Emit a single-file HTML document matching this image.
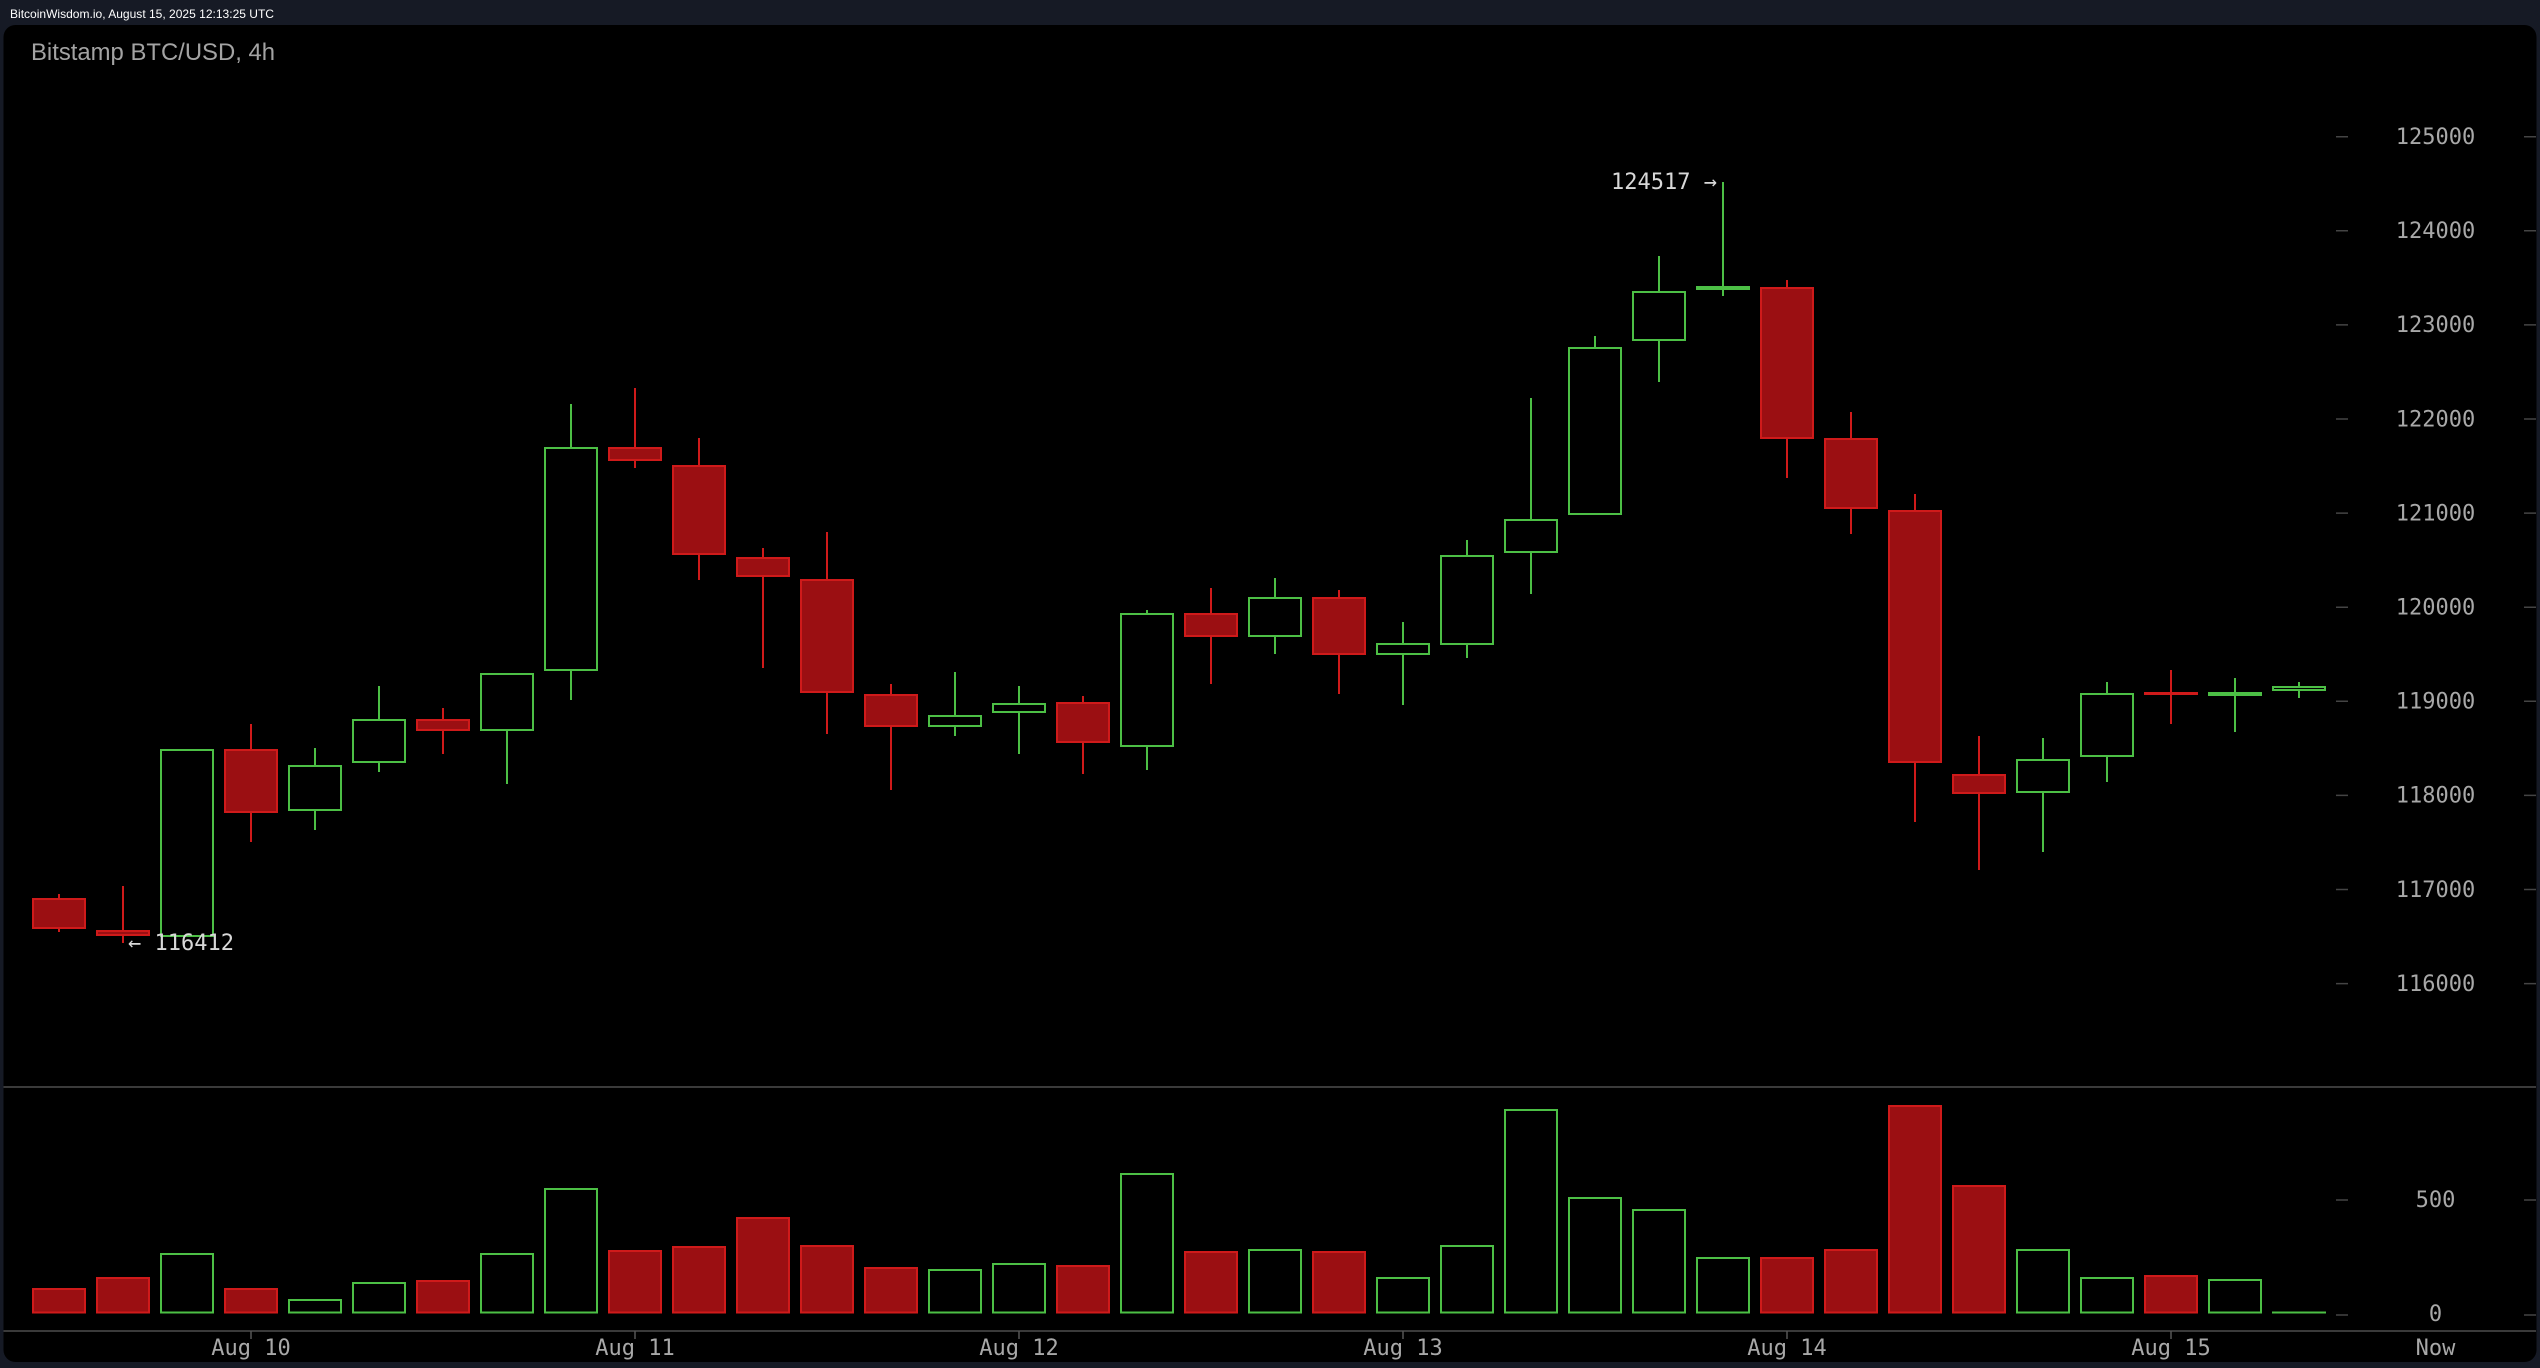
<!DOCTYPE html>
<html>
<head>
<meta charset="utf-8">
<style>
html,body{margin:0;padding:0;background:#161a25;width:2540px;height:1368px;overflow:hidden;}
svg{display:block;}
</style>
</head>
<body>
<svg width="2540" height="1368" viewBox="0 0 2540 1368" xmlns="http://www.w3.org/2000/svg">
<rect x="0" y="0" width="2540" height="1368" fill="#161a25"/>
<text x="10" y="18" font-family="Liberation Sans, sans-serif" font-size="12" fill="#ffffff" textLength="264" lengthAdjust="spacingAndGlyphs">BitcoinWisdom.io, August 15, 2025 12:13:25 UTC</text>
<rect x="3.5" y="25" width="2533" height="1337" rx="12" ry="12" fill="#000000"/>
<text x="31" y="60" font-family="Liberation Sans, sans-serif" font-size="24.5" fill="#a3a3a3" textLength="244" lengthAdjust="spacingAndGlyphs">Bitstamp BTC/USD, 4h</text>

<!-- separators -->
<line x1="3.5" y1="1087" x2="2536" y2="1087" stroke="#3a3a3a" stroke-width="2"/>
<line x1="3.5" y1="1331" x2="2536" y2="1331" stroke="#3a3a3a" stroke-width="2"/>

<!-- y ticks -->
<path d="M2336 136.7H2348M2524 136.7H2536M2336 230.8H2348M2524 230.8H2536M2336 324.9H2348M2524 324.9H2536M2336 419H2348M2524 419H2536M2336 513.1H2348M2524 513.1H2536M2336 607.2H2348M2524 607.2H2536M2336 701.3H2348M2524 701.3H2536M2336 795.4H2348M2524 795.4H2536M2336 889.5H2348M2524 889.5H2536M2336 983.6H2348M2524 983.6H2536M2336 1200H2348M2524 1200H2536M2336 1315H2348M2524 1315H2536" stroke="#444" stroke-width="1.5"/>
<g font-family="DejaVu Sans Mono, Liberation Mono, monospace" font-size="22" fill="#a8a8a8" text-anchor="middle">
<text x="2435.5" y="144">125000</text>
<text x="2435.5" y="238.1">124000</text>
<text x="2435.5" y="332.2">123000</text>
<text x="2435.5" y="426.3">122000</text>
<text x="2435.5" y="520.4">121000</text>
<text x="2435.5" y="614.5">120000</text>
<text x="2435.5" y="708.6">119000</text>
<text x="2435.5" y="802.7">118000</text>
<text x="2435.5" y="896.8">117000</text>
<text x="2435.5" y="990.9">116000</text>
<text x="2435.5" y="1207">500</text>
<text x="2435.5" y="1321">0</text>
<text x="2435.5" y="1355">Now</text>
<text x="251" y="1355">Aug 10</text>
<text x="635" y="1355">Aug 11</text>
<text x="1019" y="1355">Aug 12</text>
<text x="1403" y="1355">Aug 13</text>
<text x="1787" y="1355">Aug 14</text>
<text x="2171" y="1355">Aug 15</text>
</g>
<path d="M251 1331V1339M635 1331V1339M1019 1331V1339M1403 1331V1339M1787 1331V1339M2171 1331V1339" stroke="#555" stroke-width="1.5"/>

<!-- wicks -->
<path fill="none" stroke="#cf1a1a" stroke-width="2" d="M59 894V898M59 929V932M123 886V930M123 936V943M251 724V749M251 813V842M443 708V719M443 731V754M635 388V447M635 461V468M699 438V465M699 555V580M763 548V557M763 577V668M827 532V579M827 693V734M891 684V694M891 727V790M1083 696V702M1083 743V774M1211 588V613M1211 637V684M1339 590V597M1339 655V694M1787 280V287M1787 439V478M1851 412V438M1851 509V534M1915 494V510M1915 763V822M1979 736V774M1979 794V870M2171 670V724"/>
<path fill="none" stroke="#4cbf45" stroke-width="2" d="M315 748V765M315 811V830M379 686V719M379 763V772M507 731V784M571 404V447M571 671V700M955 672V715M955 727V736M1019 686V703M1019 713V754M1147 610V613M1147 747V770M1275 578V597M1275 637V654M1403 622V643M1403 655V705M1467 540V555M1467 645V658M1531 398V519M1531 553V594M1595 336V347M1659 256V291M1659 341V382M1723 182V296M2043 738V759M2043 793V852M2107 682V693M2107 757V782M2235 678V732M2299 682V686M2299 691V698"/>

<!-- red bodies -->
<g fill="#9b0f12" stroke="#cf1a1a" stroke-width="2">
<rect x="33" y="899" width="52" height="29"/>
<rect x="97" y="931" width="52" height="4"/>
<rect x="225" y="750" width="52" height="62"/>
<rect x="417" y="720" width="52" height="10"/>
<rect x="609" y="448" width="52" height="12"/>
<rect x="673" y="466" width="52" height="88"/>
<rect x="737" y="558" width="52" height="18"/>
<rect x="801" y="580" width="52" height="112"/>
<rect x="865" y="695" width="52" height="31"/>
<rect x="1057" y="703" width="52" height="39"/>
<rect x="1185" y="614" width="52" height="22"/>
<rect x="1313" y="598" width="52" height="56"/>
<rect x="1761" y="288" width="52" height="150"/>
<rect x="1825" y="439" width="52" height="69"/>
<rect x="1889" y="511" width="52" height="251"/>
<rect x="1953" y="775" width="52" height="18"/>
</g>
<rect x="2144" y="692" width="54" height="3" fill="#cf1a1a"/>

<!-- green bodies -->
<g fill="none" stroke="#4cbf45" stroke-width="2">
<rect x="161" y="750" width="52" height="186"/>
<rect x="289" y="766" width="52" height="44"/>
<rect x="353" y="720" width="52" height="42"/>
<rect x="481" y="674" width="52" height="56"/>
<rect x="545" y="448" width="52" height="222"/>
<rect x="929" y="716" width="52" height="10"/>
<rect x="993" y="704" width="52" height="8"/>
<rect x="1121" y="614" width="52" height="132"/>
<rect x="1249" y="598" width="52" height="38"/>
<rect x="1377" y="644" width="52" height="10"/>
<rect x="1441" y="556" width="52" height="88"/>
<rect x="1505" y="520" width="52" height="32"/>
<rect x="1569" y="348" width="52" height="166"/>
<rect x="1633" y="292" width="52" height="48"/>
<rect x="2017" y="760" width="52" height="32"/>
<rect x="2081" y="694" width="52" height="62"/>
<rect x="2273" y="687" width="52" height="3"/>
</g>
<rect x="1696" y="286" width="54" height="4" fill="#4cbf45"/>
<rect x="2208" y="692" width="54" height="4" fill="#4cbf45"/>

<!-- annotations -->
<g font-family="DejaVu Sans Mono, Liberation Mono, monospace" font-size="22" fill="#d8d8d8">
<text x="1611" y="189">124517 →</text>
<text x="128" y="950">← 116412</text>
</g>

<!-- volume red -->
<g fill="#9b0f12" stroke="#cf1a1a" stroke-width="2">
<rect x="33" y="1289" width="52" height="23.5"/>
<rect x="97" y="1278" width="52" height="34.5"/>
<rect x="225" y="1289" width="52" height="23.5"/>
<rect x="417" y="1281" width="52" height="31.5"/>
<rect x="609" y="1251" width="52" height="61.5"/>
<rect x="673" y="1247" width="52" height="65.5"/>
<rect x="737" y="1218" width="52" height="94.5"/>
<rect x="801" y="1246" width="52" height="66.5"/>
<rect x="865" y="1268" width="52" height="44.5"/>
<rect x="1057" y="1266" width="52" height="46.5"/>
<rect x="1185" y="1252" width="52" height="60.5"/>
<rect x="1313" y="1252" width="52" height="60.5"/>
<rect x="1761" y="1258" width="52" height="54.5"/>
<rect x="1825" y="1250" width="52" height="62.5"/>
<rect x="1889" y="1106" width="52" height="206.5"/>
<rect x="1953" y="1186" width="52" height="126.5"/>
<rect x="2145" y="1276" width="52" height="36.5"/>
</g>
<!-- volume green -->
<g fill="none" stroke="#4cbf45" stroke-width="2">
<rect x="161" y="1254" width="52" height="58.5"/>
<rect x="289" y="1300" width="52" height="12.5"/>
<rect x="353" y="1283" width="52" height="29.5"/>
<rect x="481" y="1254" width="52" height="58.5"/>
<rect x="545" y="1189" width="52" height="123.5"/>
<rect x="929" y="1270" width="52" height="42.5"/>
<rect x="993" y="1264" width="52" height="48.5"/>
<rect x="1121" y="1174" width="52" height="138.5"/>
<rect x="1249" y="1250" width="52" height="62.5"/>
<rect x="1377" y="1278" width="52" height="34.5"/>
<rect x="1441" y="1246" width="52" height="66.5"/>
<rect x="1505" y="1110" width="52" height="202.5"/>
<rect x="1569" y="1198" width="52" height="114.5"/>
<rect x="1633" y="1210" width="52" height="102.5"/>
<rect x="1697" y="1258" width="52" height="54.5"/>
<rect x="2017" y="1250" width="52" height="62.5"/>
<rect x="2081" y="1278" width="52" height="34.5"/>
<rect x="2209" y="1280" width="52" height="32.5"/>
</g>
<rect x="2272" y="1311.5" width="54" height="2" fill="#4cbf45"/>
</svg>
</body>
</html>
